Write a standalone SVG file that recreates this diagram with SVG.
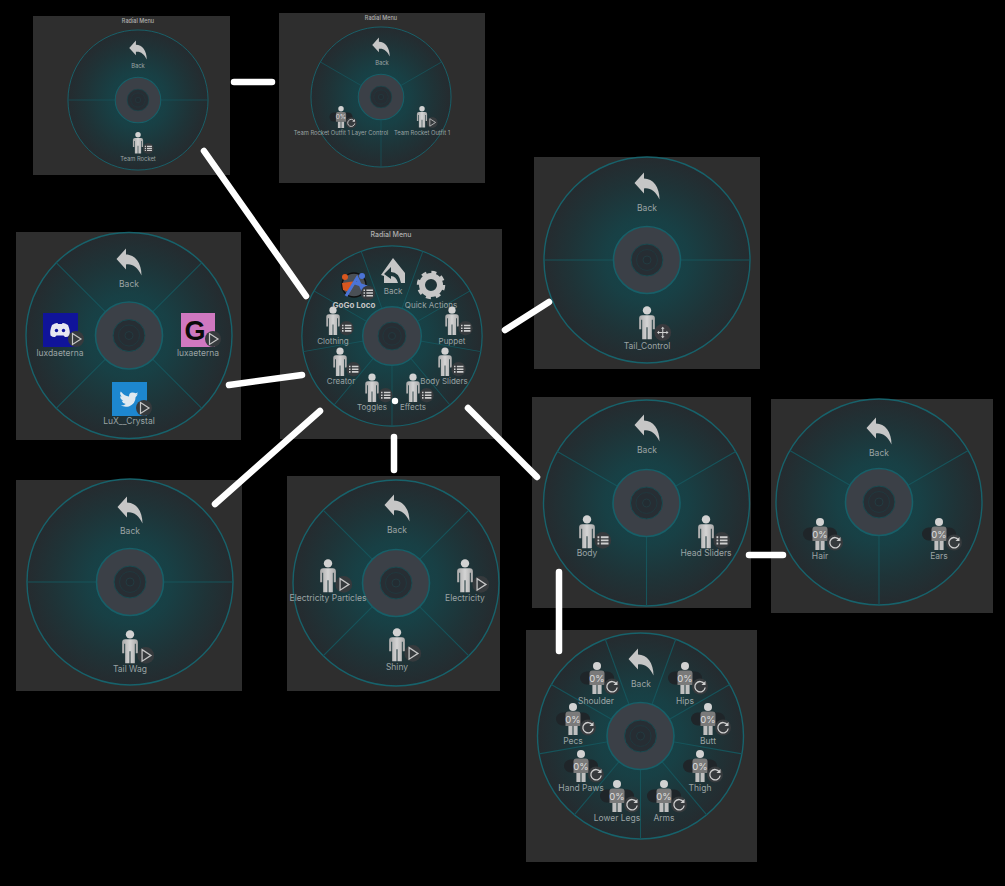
<svg xmlns="http://www.w3.org/2000/svg" width="1005" height="886" viewBox="0 0 1005 886">
<style>
.pn{fill:#2e2e2e}
.l{font-family:"Inter","Liberation Sans",sans-serif;fill:#9aa3a4;text-anchor:middle;dominant-baseline:central;font-size:8.5px}
.m{font-size:8px}
.s{font-size:5.800px}
.ti{font-family:"Inter","Liberation Sans",sans-serif;fill:#b0b0b0;text-anchor:middle;dominant-baseline:central;font-weight:500}
.sp{stroke:#16545b;stroke-width:1.100}
.ic{fill:#c6c6c6}
.cn{stroke:#fff;stroke-width:6.500;stroke-linecap:round;fill:none}
</style>
<defs>
<radialGradient id="wg"><stop offset="0" stop-color="#14464c"/><stop offset=".4" stop-color="#184045"/><stop offset=".75" stop-color="#1f3337"/><stop offset="1" stop-color="#252b2f"/></radialGradient>
<linearGradient id="pg" x1="0" x2="1" y1="0" y2="0"><stop offset="0" stop-color="#a9a9a9"/><stop offset=".5" stop-color="#d4d4d4"/><stop offset="1" stop-color="#a9a9a9"/></linearGradient>
<circle id="hub" r="103" fill="url(#wg)" stroke="#17626b" stroke-width="1.400"/>
<g id="core">
<circle r="33.500" fill="#3b4047" stroke="#175f68" stroke-width="1.600"/>
<circle r="16" fill="#272e34" stroke="#1a4a50" stroke-width="1"/>
<circle r="10.500" fill="#262d33" stroke="#21383e" stroke-width="1"/>
<circle r="4" fill="#232c32" stroke="#233a40" stroke-width="1"/>
</g>
<line id="r" class="sp" x1="0" y1="-33" x2="0" y2="-103"/>
<g id="s2"><use href="#r" transform="rotate(90)"/><use href="#r" transform="rotate(270)"/></g>
<g id="s3"><use href="#r" transform="rotate(60)"/><use href="#r" transform="rotate(180)"/><use href="#r" transform="rotate(300)"/></g>
<g id="s4"><use href="#r" transform="rotate(45)"/><use href="#r" transform="rotate(135)"/><use href="#r" transform="rotate(225)"/><use href="#r" transform="rotate(315)"/></g>
<g id="s9"><use href="#r" transform="rotate(20)"/><use href="#r" transform="rotate(60)"/><use href="#r" transform="rotate(100)"/><use href="#r" transform="rotate(140)"/><use href="#r" transform="rotate(180)"/><use href="#r" transform="rotate(220)"/><use href="#r" transform="rotate(260)"/><use href="#r" transform="rotate(300)"/><use href="#r" transform="rotate(340)"/></g>
<path id="bk" class="ic" d="M-12.500-3-3-13.500V-7.500C6-7.500 12.500 1 12.500 13.500 8.500 5 3 1.500-3 2.500V7.500Z"/>
<g id="p"><circle cy="-12" r="4" fill="#d2d2d2"/><path fill="url(#pg)" d="M-7.500-4.500Q-7.500-7.500-4.500-7.500H4.500Q7.500-7.500 7.500-4.500V6H5.500V-3H4.600V15.500H.5V4H-.5V15.500H-4.600V-3H-5.500V6H-7.500Z"/></g>
<g id="bl"><circle r="8" fill="#363a3d"/><path stroke="#cfcfcf" stroke-width="1.800" d="M-5-3H-3.300M-1.800-3H5.500M-5 0H-3.300M-1.800 0H5.500M-5 3H-3.300M-1.800 3H5.500"/></g>
<g id="bp"><circle r="8" fill="#363a3d"/><path d="M-3.500-5.500 5 0-3.500 5.500Z" fill="none" stroke="#c6c6c6" stroke-width="1.200"/></g>
<g id="br"><circle r="8" fill="#363a3d"/><path d="M4.500-2.500A5.200 5.200 0 1 0 5.200 1" fill="none" stroke="#cfcfcf" stroke-width="1.300"/><path d="M5.500-5.500V-1.500H1.500Z" fill="#cfcfcf"/></g>
<g id="bm"><circle r="8" fill="#3a3a3e"/><path stroke="#cfcfcf" stroke-width="1" d="M-4.500 0H4.500M0-4.500V4.500"/><path fill="#cfcfcf" d="M-5.500 0-3.500-1.700V1.700ZM5.500 0 3.500-1.700V1.700ZM0-5.500-1.700-3.500H1.700ZM0 5.500-1.700 3.500H1.700Z"/></g>
<g id="pl"><use href="#p"/><use href="#bl" x="15" y="8"/></g>
<g id="pp"><use href="#p"/><use href="#bp" x="15" y="8"/></g>
<g id="pm"><use href="#p"/><use href="#bm" x="15" y="9"/></g>
<g id="tr">
<rect x="-17" y="-6.500" width="34" height="13" rx="6.500" fill="#1f2529"/>
<circle cy="-12" r="4" fill="#d2d2d2"/>
<path fill="#7a7a7a" d="M-7.500-4.500Q-7.500-7.500-4.500-7.500H4.500Q7.500-7.500 7.500-4.500V7H-7.500Z"/>
<path fill="#c0c0c0" d="M-4.600 7H-.5V16H-4.600ZM.5 7H4.600V16H.5Z"/>
<text y="0" font-family="Inter,'Liberation Sans',sans-serif" font-size="9.500" fill="#ddd" text-anchor="middle" dominant-baseline="central">0%</text>
<use href="#br" x="15" y="8.500"/>
</g>
</defs>
<rect width="1005" height="886" fill="#000"/>

<g id="panel-team-rocket">
<rect class="pn" x="33" y="16" width="197" height="159"/>
<text class="ti" x="138" y="21" font-size="5.500">Radial Menu</text>
<g transform="translate(138 100) scale(.68)"><use href="#hub"/><use href="#s2"/><use href="#core"/></g>
<use href="#bk" transform="translate(138 50) scale(.7)"/>
<text class="l s" x="138" y="65">Back</text>
<use href="#pl" transform="translate(138 143) scale(.68)"/>
<text class="l s" x="138" y="158">Team Rocket</text>
</g>

<g id="panel-outfit">
<rect class="pn" x="279" y="13" width="206" height="170"/>
<text class="ti" x="381" y="18" font-size="5.500">Radial Menu</text>
<g transform="translate(381 97) scale(.68)"><use href="#hub"/><use href="#s3"/><use href="#core"/></g>
<use href="#bk" transform="translate(381 47) scale(.7)"/>
<text class="l s" x="382" y="62">Back</text>
<use href="#tr" transform="translate(341 117) scale(.68)"/>
<text class="l s" x="341" y="132">Team Rocket Outfit 1 Layer Control</text>
<use href="#pp" transform="translate(422 117) scale(.68)"/>
<text class="l s" x="422" y="132">Team Rocket Outfit 1</text>
</g>

<g id="panel-main">
<rect class="pn" x="280" y="229" width="222" height="210"/>
<text class="ti" x="391" y="234" font-size="7">Radial Menu</text>
<g transform="translate(392 336) scale(.875)"><use href="#hub"/><use href="#s9"/><use href="#core"/></g>
<path class="ic" d="M381 275 393 258 405 273V283H401Q399 272 391 272V267L384 274 391 279V276Q396 276 398 283H384V276Z"/>
<text class="l m" x="393" y="291">Back</text>
<circle cx="431" cy="285" r="9" fill="none" stroke="#c6c6c6" stroke-width="6"/>
<circle cx="431" cy="285" r="12.500" fill="none" stroke="#c6c6c6" stroke-width="3.500" stroke-dasharray="4.900 4.917"/>
<text class="l m" x="431" y="305">Quick Actions</text>
<use href="#pl" transform="translate(452 321) scale(.9)"/>
<text class="l m" x="452" y="341">Puppet</text>
<use href="#pl" transform="translate(445 362) scale(.9)"/>
<text class="l m" x="444" y="381">Body Sliders</text>
<use href="#pl" transform="translate(413 388) scale(.9)"/>
<text class="l m" x="413" y="407">Effects</text>
<use href="#pl" transform="translate(372 388) scale(.9)"/>
<text class="l m" x="372" y="407">Toggles</text>
<use href="#pl" transform="translate(340 362) scale(.9)"/>
<text class="l m" x="341" y="381">Creator</text>
<use href="#pl" transform="translate(333 321) scale(.9)"/>
<text class="l m" x="333" y="341">Clothing</text>
<circle cx="354" cy="285" r="12" fill="#4a4f55" stroke="#111" stroke-width="1.500"/>
<circle cx="345" cy="277" r="3" fill="#d8571f"/><path d="M342 283 356 281 350 292 343 290Z" fill="#d8571f"/>
<circle cx="362" cy="276" r="3" fill="#4b74d6"/><path d="M346 296 357 278 365 295M355 283 367 287" stroke="#4b74d6" stroke-width="3" fill="none"/>
<use href="#bl" transform="translate(368 293) scale(.9)"/>
<text class="l m" x="354" y="305" style="fill:#c4c4c4;font-weight:700">GoGo Loco</text>
</g>

<g id="panel-socials">
<rect class="pn" x="16" y="232" width="225" height="208"/>
<g transform="translate(129 335.500)"><use href="#hub"/><use href="#s4"/><use href="#core"/></g>
<use href="#bk" transform="translate(129 262)"/>
<text class="l" x="129" y="284">Back</text>
<rect x="43" y="313" width="35" height="34" fill="#10149a"/>
<path fill="#e8e8f0" d="M52 325Q56 322.500 57.500 323L58 324H62L62.500 323Q64 322.500 68 325 70.500 331 69.500 335.500 67 337.500 65 337L63.500 335.500H56.500L55 337Q53 337.500 50.500 335.500 49.500 331 52 325Z"/>
<circle cx="56.500" cy="330.500" r="1.700" fill="#10149a"/><circle cx="63.500" cy="330.500" r="1.700" fill="#10149a"/>
<use href="#bp" x="76" y="339"/>
<text class="l" x="60" y="353">luxdaeterna</text>
<rect x="181" y="313" width="34" height="34" fill="#cf78c0"/>
<text x="195" y="331" font-family="Liberation Sans,sans-serif" font-weight="700" font-size="27" fill="#0a0a0a" text-anchor="middle" dominant-baseline="central">G</text>
<use href="#bp" x="213" y="339"/>
<text class="l" x="198" y="353">luxaeterna</text>
<rect x="112" y="382" width="35" height="34" fill="#1d87cf"/>
<path fill="#dfe9f0" transform="translate(129 399) scale(.82) translate(-130 -398)" d="M120 389Q125 395 130 395 130 390 134 390 137 390 138 391L141 390 139 393 141 392Q139 395 138 396 138 404 130 407 124 408 120 406 124 406 126 404 122 403 121 400L123 400Q119 398 119 395L121 395Q118 392 120 389Z"/>
<use href="#bp" x="144" y="408"/>
<text class="l" x="129" y="421">LuX__Crystal</text>
</g>

<g id="panel-tail-control">
<rect class="pn" x="534" y="157" width="226" height="212"/>
<g transform="translate(647 260)"><use href="#hub"/><use href="#s2"/><use href="#core"/></g>
<use href="#bk" transform="translate(647 186)"/>
<text class="l" x="647" y="208">Back</text>
<use href="#pm" transform="translate(647 323) scale(1.05)"/>
<text class="l" x="647" y="346">Tail_Control</text>
</g>

<g id="panel-body-sliders">
<rect class="pn" x="532" y="397" width="219" height="211"/>
<g transform="translate(646.500 503)"><use href="#hub"/><use href="#s3"/><use href="#core"/></g>
<use href="#bk" transform="translate(647 428)"/>
<text class="l" x="647" y="450">Back</text>
<use href="#pl" transform="translate(587 532) scale(1.05)"/>
<text class="l" x="587" y="553">Body</text>
<use href="#pl" transform="translate(706 532) scale(1.05)"/>
<text class="l" x="706" y="553">Head Sliders</text>
</g>

<g id="panel-head-sliders">
<rect class="pn" x="771" y="399" width="222" height="214"/>
<g transform="translate(879 502)"><use href="#hub"/><use href="#s3"/><use href="#core"/></g>
<use href="#bk" transform="translate(879 431)"/>
<text class="l" x="879" y="453">Back</text>
<use href="#tr" transform="translate(820 534)"/>
<text class="l" x="820" y="556">Hair</text>
<use href="#tr" transform="translate(939 534)"/>
<text class="l" x="939" y="556">Ears</text>
</g>

<g id="panel-tail-wag">
<rect class="pn" x="16" y="480" width="226" height="211"/>
<g transform="translate(130 582)"><use href="#hub"/><use href="#s2"/><use href="#core"/></g>
<use href="#bk" transform="translate(130 510)"/>
<text class="l" x="130" y="531">Back</text>
<use href="#pp" transform="translate(130 647) scale(1.05)"/>
<text class="l" x="130" y="669">Tail Wag</text>
</g>

<g id="panel-effects">
<rect class="pn" x="287" y="476" width="213" height="215"/>
<g transform="translate(396 583)"><use href="#hub"/><use href="#s4"/><use href="#core"/></g>
<use href="#bk" transform="translate(397 508)"/>
<text class="l" x="397" y="530">Back</text>
<use href="#pp" transform="translate(328 576) scale(1.05)"/>
<text class="l" x="328" y="598">Electricity Particles</text>
<use href="#pp" transform="translate(465 576) scale(1.05)"/>
<text class="l" x="465" y="598">Electricity</text>
<use href="#pp" transform="translate(397 645) scale(1.05)"/>
<text class="l" x="397" y="667">Shiny</text>
</g>

<g id="panel-body">
<rect class="pn" x="526" y="630" width="231" height="232"/>
<g transform="translate(640.500 736)"><use href="#hub"/><use href="#s9"/><use href="#core"/></g>
<use href="#bk" transform="translate(641 662)"/>
<text class="l" x="641" y="684">Back</text>
<use href="#tr" transform="translate(685 678)"/>
<text class="l" x="685" y="701">Hips</text>
<use href="#tr" transform="translate(708 719)"/>
<text class="l" x="708" y="741">Butt</text>
<use href="#tr" transform="translate(700 766)"/>
<text class="l" x="700" y="788">Thigh</text>
<use href="#tr" transform="translate(664 796)"/>
<text class="l" x="664" y="818">Arms</text>
<use href="#tr" transform="translate(617 796)"/>
<text class="l" x="617" y="818">Lower Legs</text>
<use href="#tr" transform="translate(581 766)"/>
<text class="l" x="581" y="788">Hand Paws</text>
<use href="#tr" transform="translate(573 719)"/>
<text class="l" x="573" y="741">Pecs</text>
<use href="#tr" transform="translate(597 678)"/>
<text class="l" x="596" y="701">Shoulder</text>
</g>

<g id="connectors">
<line class="cn" x1="234" y1="82" x2="272" y2="82"/>
<line class="cn" x1="204" y1="151" x2="306" y2="296"/>
<line class="cn" x1="229" y1="385" x2="302" y2="375"/>
<line class="cn" x1="505" y1="330" x2="549" y2="302"/>
<line class="cn" x1="320" y1="411" x2="215" y2="504"/>
<line class="cn" x1="394" y1="437" x2="394" y2="470"/>
<line class="cn" x1="468" y1="408" x2="537" y2="477"/>
<line class="cn" x1="749" y1="555" x2="783" y2="555"/>
<line class="cn" x1="559" y1="572" x2="559" y2="651"/>
<circle cx="395" cy="401" r="3.200" fill="#fff"/>
</g>
</svg>
